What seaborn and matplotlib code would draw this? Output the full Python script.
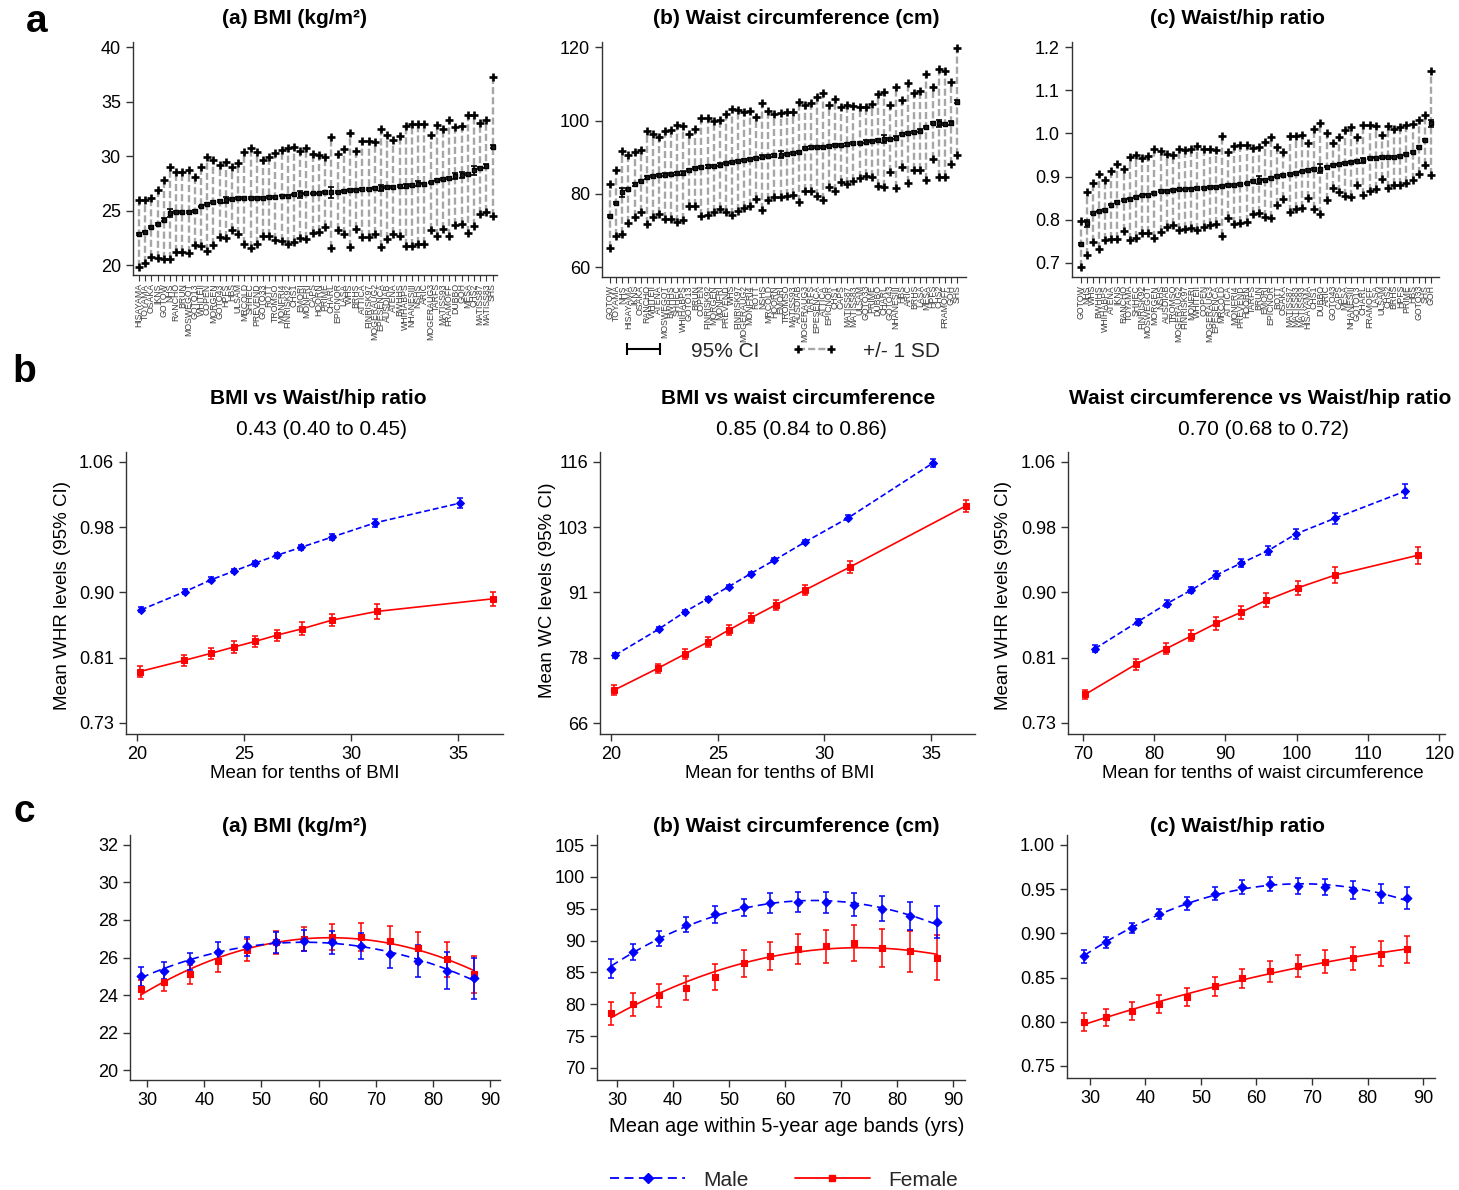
import numpy as np
import pandas as pd
import matplotlib
matplotlib.use("Agg")
import matplotlib.pyplot as plt
from matplotlib.lines import Line2D
from matplotlib import font_manager
import seaborn as sns

sns.set_theme(style="ticks")
plt.rcParams["font.family"] = ["Liberation Sans", "DejaVu Sans"]
_installed = {f.name for f in font_manager.fontManager.ttflist}
STUDY_FONT = "Liberation Sans Narrow" if "Liberation Sans Narrow" in _installed else "Liberation Sans"

# ---------------- row a: study-level distributions ----------------
bmi_studies = ["HISAYAMA", "TOYAMA", "OSAKA", "IKNS", "GOTOW", "NHS", "RANCHO", "BRUN",
               "MOSWEGOT", "GOTO13", "WHITEII", "COPEN", "MORGEN", "GOTO43", "HPFS", "HBS",
               "ULSAM", "MRCOLD", "SHHEC", "PREVEND", "GOTO33", "ROTT", "TROMSO", "MONFRI4",
               "FINRISK92", "CHS1", "EMORI", "MONFRI", "CAPS", "HOORN", "PRIME", "CHARL",
               "EPICNOR", "LASA", "WHS", "BRHS", "ATTICA", "FINRISK97", "MOGERAUG2", "EPESENCA",
               "AUSDIAB", "ATENA", "BWHHS", "WHIHABPS", "NHANESIII", "NSHS", "ARIC", "MOGERAUG3",
               "TARFS", "MATISS93", "FRAMOFF", "DUBBO", "GOH", "MESA", "CHS2", "MATISS87",
               "MATISS83", "SHS"]
bmi_mean = [22.9, 23.1, 23.5, 23.8, 24.2, 24.8, 24.9, 24.9, 24.9, 25.0, 25.4, 25.6, 25.8, 25.9,
            26.0, 26.1, 26.15, 26.2, 26.2, 26.2, 26.2, 26.3, 26.3, 26.4, 26.4, 26.5, 26.5, 26.6,
            26.6, 26.6, 26.7, 26.7, 26.7, 26.8, 26.9, 26.9, 27.0, 27.0, 27.1, 27.1, 27.2, 27.2,
            27.3, 27.3, 27.4, 27.5, 27.5, 27.6, 27.8, 27.9, 28.0, 28.2, 28.3, 28.4, 28.7, 28.9,
            29.1, 30.9]
bmi_sd = [3.1, 2.9, 2.7, 3.1, 3.6, 4.2, 3.7, 3.7, 3.8, 3.1, 3.6, 4.3, 3.9, 3.3, 3.5, 2.9, 3.25,
          4.2, 4.6, 4.2, 3.5, 3.6, 4.0, 4.2, 4.4, 4.4, 4.0, 4.2, 3.6, 3.5, 3.2, 5.1, 3.5, 3.9,
          5.2, 3.6, 4.4, 4.4, 4.2, 5.4, 4.8, 4.3, 4.6, 5.5, 5.6, 5.5, 5.5, 4.4, 5.1, 4.6, 5.3,
          4.5, 4.5, 5.4, 5.1, 4.2, 4.2, 6.4]
bmi_ci = [0.08, 0.08, 0.08, 0.08, 0.1, 0.35, 0.08, 0.08, 0.08, 0.08, 0.08, 0.08, 0.08, 0.1,
          0.3, 0.1, 0.08, 0.08, 0.08, 0.08, 0.08, 0.08, 0.08, 0.08, 0.08, 0.08, 0.3, 0.08,
          0.08, 0.08, 0.08, 0.5, 0.08, 0.08, 0.08, 0.08, 0.08, 0.08, 0.08, 0.25, 0.08, 0.08,
          0.08, 0.2, 0.08, 0.2, 0.08, 0.08, 0.08, 0.08, 0.1, 0.3, 0.3, 0.1, 0.4, 0.1, 0.2, 0.15]

wc_studies = ["GOTOW", "TOYAMA", "NHS", "HISAYAMA", "IKNS", "OSAKA", "RANCHO", "WHITEII",
              "ATENA", "MOSWEGOT", "BWHHS", "SHHEC", "WHIHABPS", "GOTO13", "BRUN", "COPEN",
              "FINRISK92", "MORGEN", "MONFRI", "PREVEND", "WHS", "FINRISK97", "MOGERAUG2",
              "MONFRI4", "ROTT", "NSHS", "MRCOLD", "HOORN", "EMORI", "TROMSO", "MATISS93",
              "AUSDIAB", "MOGERAUG3", "TARFS", "EPESENCA", "ATTICA", "EPICNOR", "CHS1", "CAPS",
              "MATISS87", "MATISS83", "ULSAM", "GOTO33", "PRIME", "DUBBO", "CHARL", "GOTO43",
              "NHANESIII", "HBS", "ARIC", "BRHS", "LASA", "MESA", "HPFS", "CHS2", "FRAMOFF",
              "GOH", "SHS"]
wc_mean = [74.0, 77.5, 80.5, 81.4, 82.6, 83.6, 84.5, 85.0, 85.1, 85.3, 85.4, 85.6, 85.8, 86.5,
           87.1, 87.3, 87.5, 87.6, 88.0, 88.4, 88.7, 89.1, 89.3, 89.6, 89.9, 90.2, 90.4, 90.5,
           90.7, 90.9, 91.1, 91.5, 92.5, 92.7, 92.9, 92.9, 93.1, 93.3, 93.4, 93.5, 93.8, 94.0,
           94.3, 94.5, 94.7, 94.9, 95.1, 95.4, 96.4, 96.7, 97.0, 97.3, 98.2, 99.3, 99.3, 99.1,
           99.3, 105.2]
wc_sd = [8.7, 9.0, 11.3, 9.3, 8.9, 8.4, 12.8, 11.4, 10.5, 12.0, 12.1, 13.2, 12.8, 9.9, 10.5,
         13.3, 13.3, 12.4, 12.2, 13.4, 14.4, 13.8, 13.0, 12.9, 11.2, 14.7, 12.1, 11.3, 11.5,
         11.5, 11.3, 13.6, 11.7, 12.0, 13.5, 14.6, 11.2, 12.6, 10.2, 10.7, 10.3, 9.6, 9.3,
         10.0, 12.6, 12.9, 9.2, 13.7, 9.1, 13.7, 10.5, 10.8, 14.5, 9.8, 14.7, 14.5, 11.2, 14.7]
wc_ci = [0.3, 0.3, 1.2, 0.3, 0.3, 0.3, 0.3, 0.3, 0.3, 0.3, 0.3, 0.3, 0.6, 0.3, 0.3, 0.3, 0.3,
         0.3, 0.4, 0.3, 0.3, 0.3, 0.3, 0.3, 0.3, 0.3, 0.3, 0.3, 1.0, 0.3, 0.3, 0.3, 0.3, 0.3,
         0.3, 0.3, 0.3, 0.3, 0.3, 0.3, 0.3, 0.3, 0.3, 0.3, 0.3, 1.1, 0.3, 0.3, 0.3, 0.3, 0.3,
         0.3, 0.3, 0.3, 1.0, 0.3, 0.6, 0.4]

whr_studies = ["GOTOW", "NHS", "WHS", "BWHHS", "WHIHABPS", "ATENA", "IKNS", "RANCHO", "TOYAMA",
               "SHHEC", "FINRISK92", "MOSWEGOT", "MORGEN", "NSHS", "AUSDIAB", "TROMSO",
               "MOGERAUG2", "FINRISK97", "MONFRI", "WHITEII", "COPEN", "MOGERAUG3", "EPESENCA",
               "MRCOLD", "ATTICA", "MONFRI4", "PREVEND", "HOORN", "TARFS", "BRUN", "EMORI",
               "EPICNOR", "ROTT", "OSAKA", "MATISS87", "MATISS83", "MATISS93", "HISAYAMA",
               "CHS1", "DUBBO", "ARIC", "GOTO43", "CAPS", "MESA", "NHANESIII", "GOTO13",
               "CHARL", "FRAMOFF", "LASA", "ULSAM", "CHS2", "BRHS", "HPFS", "PRIME", "HBS",
               "GOTO33", "SHS", "GOH"]
whr_mean = [0.743, 0.791, 0.816, 0.819, 0.822, 0.835, 0.841, 0.845, 0.849, 0.853, 0.856, 0.858,
            0.861, 0.866, 0.867, 0.869, 0.870, 0.870, 0.872, 0.873, 0.874, 0.875, 0.876, 0.878,
            0.880, 0.881, 0.883, 0.884, 0.890, 0.892, 0.893, 0.897, 0.901, 0.903, 0.906, 0.909,
            0.912, 0.915, 0.917, 0.918, 0.923, 0.926, 0.928, 0.931, 0.934, 0.936, 0.938, 0.943,
            0.944, 0.945, 0.945, 0.946, 0.948, 0.952, 0.957, 0.969, 0.985, 1.024]
whr_sd = [0.053, 0.072, 0.068, 0.088, 0.070, 0.079, 0.087, 0.072, 0.096, 0.096, 0.086, 0.090,
          0.103, 0.094, 0.085, 0.082, 0.095, 0.092, 0.091, 0.098, 0.090, 0.088, 0.086, 0.115,
          0.077, 0.091, 0.091, 0.090, 0.076, 0.077, 0.087, 0.094, 0.067, 0.054, 0.088, 0.085,
          0.085, 0.064, 0.093, 0.106, 0.077, 0.053, 0.063, 0.077, 0.082, 0.055, 0.081, 0.077,
          0.073, 0.051, 0.072, 0.065, 0.068, 0.067, 0.065, 0.062, 0.058, 0.120]
whr_ci = [0.003, 0.008, 0.002, 0.002, 0.002, 0.002, 0.002, 0.002, 0.002, 0.002, 0.002, 0.002,
          0.002, 0.002, 0.002, 0.002, 0.002, 0.002, 0.002, 0.002, 0.002, 0.002, 0.002, 0.002,
          0.002, 0.002, 0.002, 0.002, 0.002, 0.009, 0.002, 0.002, 0.002, 0.002, 0.002, 0.002,
          0.002, 0.002, 0.002, 0.010, 0.002, 0.002, 0.002, 0.002, 0.002, 0.002, 0.006, 0.002,
          0.002, 0.002, 0.002, 0.002, 0.002, 0.002, 0.002, 0.002, 0.002, 0.008]

# ---------------- row b: means by tenths ----------------
bmi_tenth_m = [20.19, 22.24, 23.46, 24.53, 25.51, 26.54, 27.66, 29.11, 31.12, 35.09]
bmi_tenth_f = [20.14, 22.20, 23.46, 24.53, 25.51, 26.54, 27.71, 29.11, 31.21, 36.64]
whr_by_bmi_m = [0.873, 0.896, 0.911, 0.922, 0.932, 0.942, 0.952, 0.965, 0.983, 1.008]
whr_by_bmi_m_ci = [0.003, 0.003, 0.003, 0.003, 0.003, 0.003, 0.003, 0.004, 0.005, 0.006]
whr_by_bmi_f = [0.795, 0.809, 0.818, 0.826, 0.833, 0.841, 0.849, 0.860, 0.871, 0.887]
whr_by_bmi_f_ci = [0.007, 0.007, 0.007, 0.007, 0.007, 0.007, 0.008, 0.008, 0.009, 0.009]

wc_by_bmi_m = [78.6, 83.6, 86.9, 89.4, 91.7, 94.2, 96.8, 100.3, 104.9, 115.4]
wc_by_bmi_m_ci = [0.5, 0.4, 0.4, 0.4, 0.4, 0.4, 0.4, 0.4, 0.5, 0.7]
wc_by_bmi_f = [71.9, 76.1, 78.8, 81.1, 83.4, 85.7, 88.2, 91.1, 95.5, 107.2]
wc_by_bmi_f_ci = [0.9, 0.9, 0.9, 0.9, 0.9, 0.9, 1.0, 1.0, 1.1, 1.2]

wc_tenth_m = [71.7, 77.7, 81.8, 85.2, 88.7, 92.2, 96.0, 99.9, 105.4, 115.2]
wc_tenth_f = [70.3, 77.4, 81.7, 85.2, 88.7, 92.2, 95.7, 100.2, 105.4, 117.0]
whr_by_wc_m = [0.824, 0.858, 0.881, 0.898, 0.917, 0.932, 0.948, 0.969, 0.989, 1.023]
whr_by_wc_m_ci = [0.004, 0.004, 0.004, 0.004, 0.005, 0.005, 0.006, 0.006, 0.007, 0.009]
whr_by_wc_f = [0.766, 0.804, 0.824, 0.840, 0.856, 0.870, 0.885, 0.901, 0.917, 0.942]
whr_by_wc_f_ci = [0.006, 0.007, 0.007, 0.007, 0.008, 0.008, 0.009, 0.009, 0.010, 0.011]

corr_titles = ["BMI vs Waist/hip ratio", "BMI vs waist circumference",
               "Waist circumference vs Waist/hip ratio"]
corr_values = ["0.43 (0.40 to 0.45)", "0.85 (0.84 to 0.86)", "0.70 (0.68 to 0.72)"]

# ---------------- row c: means by 5-year age band ----------------
age_mid = [28.9, 32.9, 37.5, 42.4, 47.5, 52.6, 57.4, 62.4, 67.4, 72.4, 77.4, 82.4, 87.2]
age_bmi_m = [25.0, 25.3, 25.8, 26.3, 26.6, 26.8, 26.9, 26.8, 26.6, 26.2, 25.8, 25.3, 24.9]
age_bmi_m_ci = [0.5, 0.45, 0.45, 0.5, 0.5, 0.55, 0.55, 0.6, 0.7, 0.75, 0.85, 1.0, 1.1]
age_bmi_f = [24.3, 24.7, 25.1, 25.8, 26.4, 26.8, 27.0, 27.1, 27.1, 26.9, 26.5, 25.9, 25.1]
age_bmi_f_ci = [0.5, 0.5, 0.5, 0.55, 0.6, 0.6, 0.65, 0.7, 0.75, 0.8, 0.85, 0.95, 1.0]
age_wc_m = [85.6, 88.2, 90.3, 92.5, 94.1, 95.2, 95.9, 96.1, 96.0, 95.6, 95.0, 93.8, 92.9]
age_wc_m_ci = [1.5, 1.3, 1.2, 1.2, 1.3, 1.4, 1.5, 1.6, 1.7, 1.8, 2.0, 2.2, 2.5]
age_wc_f = [78.6, 80.0, 81.4, 82.6, 84.3, 86.4, 87.6, 88.7, 89.1, 89.6, 88.8, 88.3, 87.3]
age_wc_f_ci = [1.8, 1.8, 1.8, 1.9, 2.0, 2.1, 2.2, 2.4, 2.6, 2.8, 3.0, 3.2, 3.5]
age_whr_m = [0.874, 0.890, 0.906, 0.922, 0.934, 0.945, 0.952, 0.956, 0.954, 0.952, 0.949, 0.945, 0.940]
age_whr_m_ci = [0.007, 0.006, 0.006, 0.006, 0.007, 0.007, 0.008, 0.008, 0.009, 0.009, 0.010, 0.011, 0.012]
age_whr_f = [0.800, 0.805, 0.812, 0.820, 0.828, 0.840, 0.849, 0.857, 0.863, 0.868, 0.872, 0.877, 0.882]
age_whr_f_ci = [0.010, 0.010, 0.010, 0.010, 0.010, 0.011, 0.011, 0.012, 0.012, 0.013, 0.013, 0.014, 0.015]

BLUE = "#0000ff"
RED = "#ff0000"

TICK_PT = 13
TITLE_PT = 15
LABEL_PT = 13.5
LEGEND_PT = 15
STUDY_PT = 6.3

W, H = 1459, 1190
fig = plt.figure(figsize=(W / 100, H / 100), dpi=100)


def px_axes(x0, y0, x1, y1):
    return fig.add_axes([x0 / W, 1 - y1 / H, (x1 - x0) / W, (y1 - y0) / H])


def style_axes(ax, tick_size=TICK_PT):
    for s in ("top", "right"):
        ax.spines[s].set_visible(False)
    for s in ("left", "bottom"):
        ax.spines[s].set_color("#333333")
        ax.spines[s].set_linewidth(1.0)
    ax.tick_params(axis="both", direction="out", length=5, width=1, color="#333333",
                   labelsize=tick_size, labelcolor="black")
    ax.grid(False)


def ftext(x, y, s, **kw):
    fig.text(x / W, 1 - y / H, s, ha="center", va="center", color="black", **kw)


def study_panel(ax, names, mean, sd, ci, xlim, ylim, yticks, yfmt):
    df = pd.DataFrame({"study": names, "mean": mean, "sd": sd, "ci": ci})
    df["pos"] = np.arange(len(df))
    lo = df["mean"] - df["sd"]
    hi = df["mean"] + df["sd"]
    ax.vlines(df["pos"], lo, hi, colors="#a6a6a6", linestyles=(0, (3, 1.3)), lw=1.7, zorder=1)
    ax.scatter(df["pos"], hi, marker="+", s=28, c="black", linewidths=1.9, zorder=3)
    ax.scatter(df["pos"], lo, marker="+", s=28, c="black", linewidths=1.9, zorder=3)
    ax.errorbar(df["pos"], df["mean"], yerr=df["ci"], fmt="none", ecolor="black",
                elinewidth=1.2, capsize=2.5, capthick=1.2, zorder=4)
    sns.scatterplot(data=df, x="pos", y="mean", marker="s", s=11, color="#1a1a1a",
                    edgecolor="black", linewidth=1.0, ax=ax, zorder=5, legend=False)
    ax.set_xlim(*xlim)
    ax.set_ylim(*ylim)
    ax.set_yticks(yticks)
    ax.set_yticklabels([yfmt.format(v) for v in yticks])
    ax.set_xticks(df["pos"])
    ax.set_xticklabels(df["study"], rotation=90, family=STUDY_FONT)
    ax.set_xlabel("")
    ax.set_ylabel("")
    style_axes(ax)
    ax.tick_params(axis="x", length=4, width=0.8, pad=2, labelsize=STUDY_PT,
                   labelcolor="#3a3a3a")


def tenths_panel(ax, xm, ym, em, xf, yf, ef, xlim, ylim, yticks, yfmt, xticks):
    for x, y, e, col, mk, ls in [(xf, yf, ef, RED, "s", "-"),
                                 (xm, ym, em, BLUE, "D", (0, (3.5, 1.8)))]:
        ax.errorbar(x, y, yerr=e, fmt="none", ecolor=col, elinewidth=1.1, capsize=2.5,
                    capthick=1.1, zorder=3)
        sns.lineplot(x=x, y=y, ax=ax, color=col, marker=mk, markersize=5 if mk == "s" else 4.5,
                     markeredgecolor=col, linestyle=ls, lw=1.2, sort=False, estimator=None,
                     zorder=4)
    ax.set_xlim(*xlim)
    ax.set_ylim(*ylim)
    ax.set_yticks(yticks)
    ax.set_yticklabels([yfmt.format(v) for v in yticks])
    ax.set_xticks(xticks)
    ax.set_xlabel("")
    ax.set_ylabel("")
    style_axes(ax)


def age_panel(ax, ages, ym, em, yf, ef, xlim, ylim, yticks, yfmt):
    for y, e, col, mk, ls in [(yf, ef, RED, "s", "-"), (ym, em, BLUE, "D", (0, (5, 3)))]:
        ax.errorbar(ages, y, yerr=e, fmt="none", ecolor=col, elinewidth=1.1, capsize=2.5,
                    capthick=1.1, zorder=3)
        sns.scatterplot(x=ages, y=y, ax=ax, color=col, marker=mk, s=22 if mk == "s" else 20,
                        edgecolor=col, linewidth=0.8, zorder=4, legend=False)
        sns.regplot(x=ages, y=y, ax=ax, order=2, ci=None, scatter=False,
                    line_kws=dict(color=col, linestyle=ls, lw=1.2, zorder=2))
    ax.set_xlim(*xlim)
    ax.set_ylim(*ylim)
    ax.set_yticks(yticks)
    ax.set_yticklabels([yfmt.format(v) for v in yticks])
    ax.set_xticks([30, 40, 50, 60, 70, 80, 90])
    ax.set_xlabel("")
    ax.set_ylabel("")
    style_axes(ax)


# ---- row a ----
axa1 = px_axes(132.7, 42, 497, 275)
study_panel(axa1, bmi_studies, bmi_mean, bmi_sd, bmi_ci, (-1.0, 57.7), (19.11, 40.49),
            [20, 25, 30, 35, 40], "{:.0f}")
axa2 = px_axes(601.7, 42, 966, 276.7)
study_panel(axa2, wc_studies, wc_mean, wc_sd, wc_ci, (-1.4, 58.5), (57.44, 121.45),
            [60, 80, 100, 120], "{:.0f}")
axa3 = px_axes(1071.7, 42, 1439, 276.7)
study_panel(axa3, whr_studies, whr_mean, whr_sd, whr_ci, (-1.45, 58.3), (0.6675, 1.2123),
            [0.7, 0.8, 0.9, 1.0, 1.1, 1.2], "{:.1f}")

ftext(295, 18, "(a) BMI (kg/m²)", fontsize=TITLE_PT, fontweight="bold")
ftext(796, 18, "(b) Waist circumference (cm)", fontsize=TITLE_PT, fontweight="bold")
ftext(1238, 18, "(c) Waist/hip ratio", fontsize=TITLE_PT, fontweight="bold")

ci_handle = Line2D([], [], color="black", lw=1.5, marker="|", markersize=9, mew=1.5)
sd_handle = Line2D([], [], color="#a6a6a6", lw=1.7, linestyle=(0, (3, 1.3)), marker="+",
                   markersize=6, mew=1.9, mec="black")
fig.legend([ci_handle, sd_handle], ["95% CI", "+/- 1 SD"], loc="center",
           bbox_to_anchor=(780 / W, 1 - 351 / H), ncol=2, frameon=False, numpoints=2,
           handlelength=2.2, handletextpad=1.2, columnspacing=1.55, fontsize=LEGEND_PT)

# ---- row b ----
whr_ticks = list(np.linspace(0.73, 1.06, 5))
wc_ticks = list(np.linspace(65.6, 115.6, 5))
axb1 = px_axes(126, 452, 503, 734)
tenths_panel(axb1, bmi_tenth_m, whr_by_bmi_m, whr_by_bmi_m_ci, bmi_tenth_f, whr_by_bmi_f,
             whr_by_bmi_f_ci, (19.49, 37.10), (0.716, 1.0726), whr_ticks, "{:.2f}",
             [20, 25, 30, 35])
axb2 = px_axes(600, 452, 975, 734)
tenths_panel(axb2, bmi_tenth_m, wc_by_bmi_m, wc_by_bmi_m_ci, bmi_tenth_f, wc_by_bmi_f,
             wc_by_bmi_f_ci, (19.48, 37.06), (63.5, 117.5), wc_ticks, "{:.0f}",
             [20, 25, 30, 35])
axb3 = px_axes(1068, 452, 1445, 734)
tenths_panel(axb3, wc_tenth_m, whr_by_wc_m, whr_by_wc_m_ci, wc_tenth_f, whr_by_wc_f,
             whr_by_wc_f_ci, (67.9, 120.8), (0.716, 1.0726), whr_ticks, "{:.2f}",
             [70, 80, 90, 100, 110, 120])

for cx, title, val in zip([318, 798, 1260], corr_titles, corr_values):
    ftext(cx, 399, title, fontsize=TITLE_PT, fontweight="bold")
    ftext(cx + 3, 429, val, fontsize=TITLE_PT)
ftext(305, 773, "Mean for tenths of BMI", fontsize=LABEL_PT)
ftext(780, 773, "Mean for tenths of BMI", fontsize=LABEL_PT)
ftext(1263, 773, "Mean for tenths of waist circumference", fontsize=LABEL_PT)
ftext(63, 596, "Mean WHR levels (95% CI)", fontsize=LABEL_PT, rotation=90)
ftext(547, 590, "Mean WC levels (95% CI)", fontsize=LABEL_PT, rotation=90)
ftext(1003, 596, "Mean WHR levels (95% CI)", fontsize=LABEL_PT, rotation=90)

# ---- row c ----
axc1 = px_axes(130, 835, 500, 1080)
age_panel(axc1, age_mid, age_bmi_m, age_bmi_m_ci, age_bmi_f, age_bmi_f_ci,
          (27.03, 91.7), (19.47, 32.53), [20, 22, 24, 26, 28, 30, 32], "{:.0f}")
axc2 = px_axes(597, 835, 965, 1080)
age_panel(axc2, age_mid, age_wc_m, age_wc_m_ci, age_wc_f, age_wc_f_ci,
          (26.43, 92.14), (68.11, 106.57), [70, 75, 80, 85, 90, 95, 100, 105], "{:.0f}")
axc3 = px_axes(1067, 835, 1435, 1078)
age_panel(axc3, age_mid, age_whr_m, age_whr_m_ci, age_whr_f, age_whr_f_ci,
          (25.86, 92.16), (0.7364, 1.0113), [0.75, 0.80, 0.85, 0.90, 0.95, 1.00], "{:.2f}")

ftext(295, 827, "(a) BMI (kg/m²)", fontsize=TITLE_PT, fontweight="bold")
ftext(796, 827, "(b) Waist circumference (cm)", fontsize=TITLE_PT, fontweight="bold")
ftext(1238, 827, "(c) Waist/hip ratio", fontsize=TITLE_PT, fontweight="bold")
ftext(787, 1127, "Mean age within 5-year age bands (yrs)", fontsize=14.5)

male_handle = Line2D([], [], color=BLUE, lw=1.3, linestyle=(0, (5, 3)), marker="D",
                     markersize=5, mec=BLUE)
female_handle = Line2D([], [], color=RED, lw=1.3, linestyle="-", marker="s", markersize=5,
                       mec=RED)
fig.legend([male_handle, female_handle], ["Male", "Female"], loc="center",
           bbox_to_anchor=(784 / W, 1 - 1180 / H), ncol=2, frameon=False, numpoints=1,
           handlelength=3.6, handletextpad=0.87, columnspacing=2.2, fontsize=LEGEND_PT)

# ---- panel letters ----
ftext(37, 22, "a", fontsize=28, fontweight="bold")
ftext(24, 372, "b", fontsize=28, fontweight="bold")
ftext(24, 812, "c", fontsize=28, fontweight="bold")

fig.savefig("out.png", dpi=100, facecolor="white")
